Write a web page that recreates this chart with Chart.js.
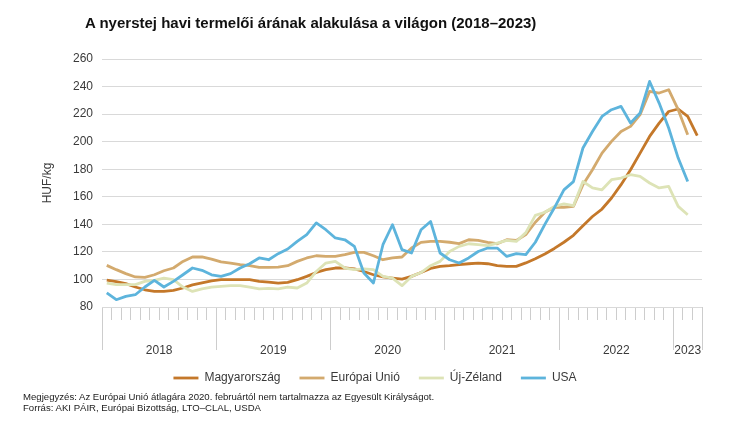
<!DOCTYPE html>
<html><head><meta charset="utf-8">
<script src="https://cdn.jsdelivr.net/npm/chart.js@4"></script>
<style>
html,body{margin:0;padding:0;background:#fff;}
#wrap{position:relative;width:750px;height:429px;overflow:hidden;font-family:"Liberation Sans",Arial,sans-serif;}
#c{position:absolute;left:0;top:0;}
#title{position:absolute;left:85px;top:14px;font-size:15px;font-weight:bold;color:#111;white-space:nowrap;line-height:18px;}
#note{position:absolute;left:23px;top:392px;font-size:9.6px;line-height:10.5px;color:#222;white-space:nowrap;}
</style></head><body>
<div id="wrap">
<canvas id="c" width="750" height="429" style="width:750px;height:429px"></canvas>
<div id="title">A nyerstej havi termelői árának alakulása a világon (2018–2023)</div>
<div id="note">Megjegyzés: Az Európai Unió átlagára 2020. februártól nem tartalmazza az Egyesült Királyságot.<br>Forrás: AKI PÁIR, Európai Bizottság, LTO–CLAL, USDA</div>
</div>
<script>
// ---- data ----
const years = ['2018', '2019', '2020', '2021', '2022', '2023'];
const monthsPerYear = [12, 12, 12, 12, 12, 3];
const seriesNames = ['Magyarország', 'Európai Unió', 'Új-Zéland', 'USA'];
const yTicks = [80, 100, 120, 140, 160, 180, 200, 220, 240, 260];

const hungary = [
  99.5, 98.5, 97, 94.5, 92.5, 91.3, 91.3, 92, 93.8, 96, 97.5, 99,
  99.8, 99.8, 99.8, 99.8, 98.6, 98, 97.4, 97.9, 99.8, 102.2, 105.1, 107.1,
  108.3, 108.3, 107.6, 105.8, 103.4, 101.8, 101, 100.3, 102.2, 105, 108, 109.5,
  110, 110.7, 111.4, 111.9, 111.4, 110, 109.5, 109.5, 112, 115, 118.5, 122.5,
  127, 132, 139, 145.7, 151.1, 159.1, 168.8, 179.6, 191.7, 203.8, 213.5, 221.9,
  223.7, 218.3, 204.3
];
const eu = [
  110.2, 107.1, 104.2, 101.8, 101.5, 103.4, 106.3, 108.3, 113.1, 116.3, 116.3, 114.8,
  112.7, 111.9, 110.7, 110, 108.7, 108.7, 109, 110, 113.1, 115.6, 117.2, 116.7,
  116.7, 118, 119.6, 119.6, 117.2, 114.3, 115.6, 116.3, 122.8, 126.9, 127.6, 127.6,
  127, 126, 128.8, 128.3, 126.9, 125.9, 128.8, 128.3, 132.5, 141.5, 148.8, 152.4,
  152.4, 153, 168.8, 179.6, 191.7, 200.2, 207.4, 211.1, 219.6, 236.5, 235.3, 237.7,
  223.2, 205
];
const newZealand = [
  97.4, 96.2, 96.2, 96.2, 98.6, 99.3, 101, 99.8, 94.5, 91.3, 93.1, 94.5,
  95, 95.5, 95.5, 94.5, 93.1, 93.5, 93.1, 94.5, 93.8, 97.4, 105.8, 111.9,
  113.1, 108.3, 107.1, 107.6, 107.1, 102.2, 101, 95.5, 102.2, 105, 110, 113.1,
  120.3, 124, 125.9, 125.2, 124.5, 126.4, 128.3, 127.6, 134, 146.5, 148.8, 153,
  154.8, 153.5, 171.1, 166.4, 165.1, 172.4, 173.6, 176, 174.8, 170, 166.4, 167.5,
  153, 147
];
const usa = [
  90.2, 85.3, 87.7, 88.9, 94.5, 99.3, 94.5, 98.6, 103.4, 108.3, 106.6, 103.4,
  102.2, 104.2, 108.3, 111.4, 115.6, 114.3, 118.7, 122.1, 127.6, 132.5, 141, 136.1,
  130.1, 128.8, 124, 104.7, 97.4, 125.2, 139.7, 121.6, 119.2, 136.1, 142.1, 119.2,
  114.3, 111.9, 115.6, 120.3, 122.8, 122.8, 116.7, 118.7, 118, 127, 140, 152,
  165, 171, 195.4, 207.4, 218.3, 223.2, 225.6, 213.5, 220.8, 243.7, 228, 209.9,
  188.1, 171.1
];

// ---- derived categories (months) ----
const categories = [];
const yearStarts = [];
const yearCenters = [];
years.forEach((y, k) => {
  yearStarts.push(categories.length);
  yearCenters.push(categories.length + (monthsPerYear[k] - 1) / 2);
  for (let m = 1; m <= monthsPerYear[k]; m++) categories.push(y + '-' + String(m).padStart(2, '0'));
});
const boundarySet = new Set(yearStarts);

const colors = ['#C4782A', '#D3AA6E', '#DDE3B6', '#5DB4DC'];
const seriesData = [hungary, eu, newZealand, usa];

const font = {family: '"Liberation Sans", Arial, sans-serif', size: 12};
const textColor = '#3a3a3a';

new Chart(document.getElementById('c'), {
  type: 'line',
  data: {
    labels: categories,
    datasets: seriesData.map((d, k) => ({
      label: seriesNames[k],
      data: d,
      borderColor: colors[k],
      backgroundColor: colors[k],
      borderWidth: 2.8,
      pointRadius: 0,
      tension: 0,
      borderJoinStyle: 'round',
      order: 3 - k
    }))
  },
  options: {
    responsive: false,
    animation: false,
    events: [],
    layout: {padding: {top: 59, bottom: 35, left: 0, right: 0}},
    plugins: {
      title: {display: false},
      tooltip: {enabled: false},
      legend: {
        position: 'bottom',
        labels: {
          font: font,
          color: textColor,
          usePointStyle: true,
          pointStyle: 'line',
          pointStyleWidth: 25,
          padding: 19,
          sort: (a, b) => a.datasetIndex - b.datasetIndex
        }
      }
    },
    scales: {
      x: {
        type: 'category',
        offset: true,
        border: {display: false},
        grid: {
          display: true,
          drawOnChartArea: false,
          offset: true,
          tickLength: 43,
          tickColor: '#cdcdcd',
          tickWidth: 1,
          tickBorderDash: (ctx) => (ctx.index === undefined || boundarySet.has(ctx.index)) ? [] : [13, 200]
        },
        ticks: {display: false, autoSkip: false},
        afterFit: (s) => { s.height = 46; }
      },
      xl: {
        type: 'linear',
        position: {y: 80},
        min: -0.5,
        max: categories.length - 0.5,
        grid: {display: false},
        border: {display: false},
        afterBuildTicks: (s) => { s.ticks = yearCenters.map(v => ({value: v})); },
        ticks: {
          autoSkip: false,
          maxRotation: 0,
          padding: 28.5,
          font: font,
          color: textColor,
          callback: (v, i) => years[i]
        }
      },
      y: {
        min: yTicks[0],
        max: yTicks[yTicks.length - 1],
        border: {display: false},
        grid: {color: '#d9d9d9', drawTicks: false, lineWidth: 1},
        afterBuildTicks: (s) => { s.ticks = yTicks.map(v => ({value: v})); },
        ticks: {padding: 9, font: font, color: textColor},
        title: {display: true, text: 'HUF/kg', font: font, color: textColor, padding: {top: 40, bottom: 0}},
        afterFit: (s) => { s.width = 102; }
      },
      yR: {
        type: 'linear',
        position: 'right',
        display: true,
        grid: {display: false},
        border: {display: false},
        ticks: {display: false},
        afterFit: (s) => { s.width = 48; }
      }
    }
  }
});
</script>
</body></html>
